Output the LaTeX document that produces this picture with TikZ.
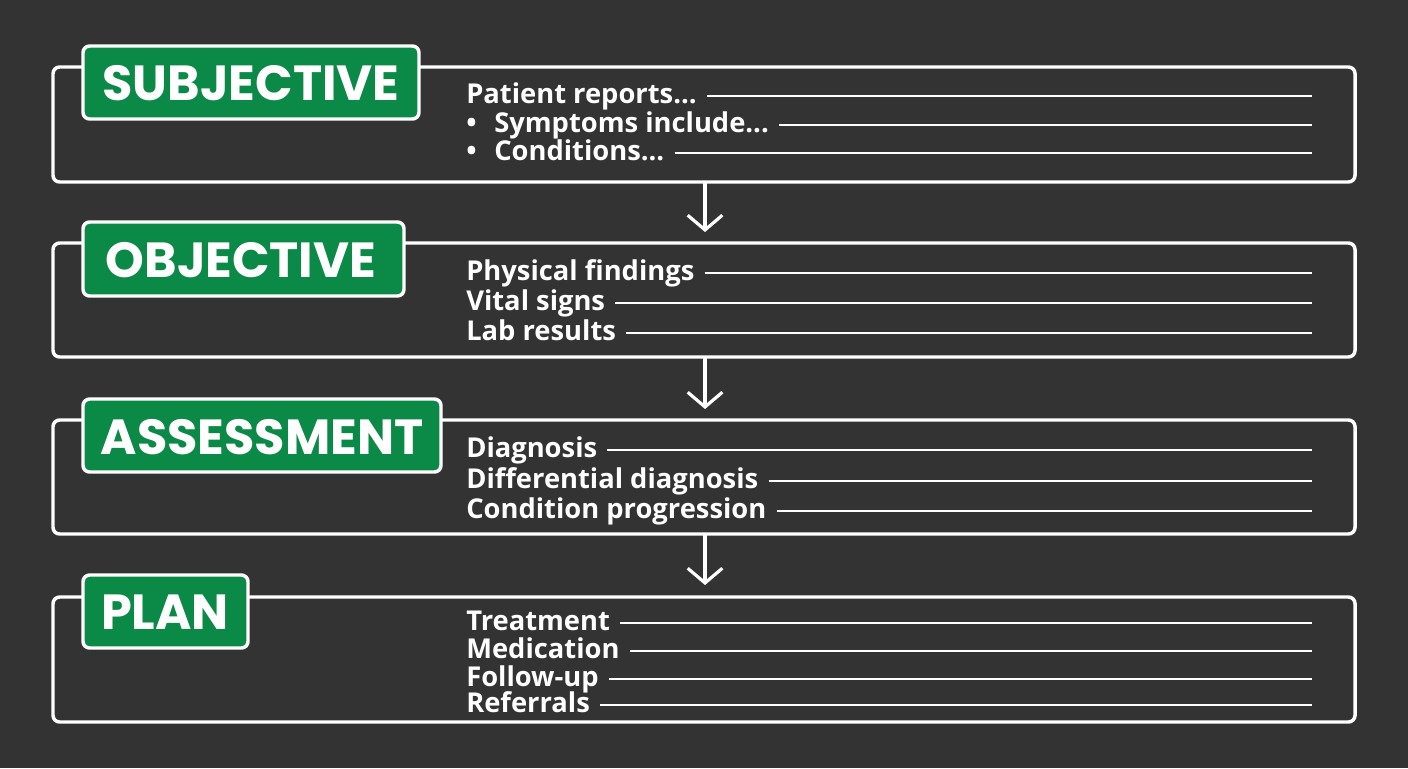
\documentclass[tikz,border=0pt]{standalone}
\usepackage{fontspec}
\setmainfont{Open Sans}
\newfontfamily\lab{Poppins}
\usetikzlibrary{calc,arrows.meta}
\definecolor{bg}{HTML}{333333}
\definecolor{gr}{HTML}{0B8A47}
\tikzset{
 panel/.style={draw=white,line width=2.6pt,rounded corners=5pt},
 tag/.style={draw=white,fill=gr,line width=2.6pt,rounded corners=5pt},
 tagtext/.style={text=white,font=\lab\bfseries\fontsize{37}{37}\selectfont,inner sep=0pt},
 item/.style={text=white,font=\bfseries\fontsize{20.5}{21}\selectfont,anchor=base west,inner sep=0pt},
 rule/.style={draw=white,line width=2.2pt},
 flow/.style={draw=white,line width=2.4pt,-{Straight Barb[length=11pt,width=26pt,line width=2.4pt]}}
}
\begin{document}
\begin{tikzpicture}[x=0.75pt,y=-0.75pt]
\useasboundingbox[fill=bg] (0,0) rectangle (1408,768);
% panels
\draw[panel] (53,67) rectangle (1355,182);
\draw[panel] (53,243) rectangle (1355,357);
\draw[panel] (53,420) rectangle (1355,534);
\draw[panel] (53,597) rectangle (1355,722);
% tags
\path[tag] (83,46) rectangle (419,119);
\node[tagtext] (s) at (251,83) {SUBJECTIVE};
\path[tag] (83,222) rectangle (404,296);
\node[tagtext] (o) at (241,260) {OBJECTIVE};
\path[tag] (83,399) rectangle (441,472);
\node[tagtext] (a) at (262,437) {ASSESSMENT};
\path[tag] (83,575) rectangle (248,648);
\node[tagtext] (p) at (165,612) {PLAN};
% items
\newcommand{\itm}[4]{\node[item] (#1) at (#2,#3) {#4};
 \draw[rule] ($(#1.base east)+(10,-7)$) -- ++(0,0) -| (1312,#3-7) coordinate (#1e);}
\itm{a1}{466}{103}{Patient reports...}
\itm{a2}{466}{132}{\makebox[21pt][l]{•}Symptoms include...}
\itm{a3}{466}{160}{\makebox[21pt][l]{•}Conditions...}
\itm{b1}{466}{280}{Physical findings}
\itm{b2}{466}{310}{Vital signs}
\itm{b3}{466}{340}{Lab results}
\itm{c1}{466}{457}{Diagnosis}
\itm{c2}{466}{488}{Differential diagnosis}
\itm{c3}{466}{518}{Condition progression}
\itm{d1}{466}{630}{Treatment}
\itm{d2}{466}{658}{Medication}
\itm{d3}{466}{686}{Follow-up}
\itm{d4}{466}{712}{Referrals}
% arrows
\coordinate (f1) at (705,182); \coordinate (t1) at (705,232);
\coordinate (f2) at (705,357); \coordinate (t2) at (705,409);
\coordinate (f3) at (705,534); \coordinate (t3) at (705,585);
\draw[flow] (f1) -- (t1);
\draw[flow] (f2) -- (t2);
\draw[flow] (f3) -- (t3);
\end{tikzpicture}
\end{document}
